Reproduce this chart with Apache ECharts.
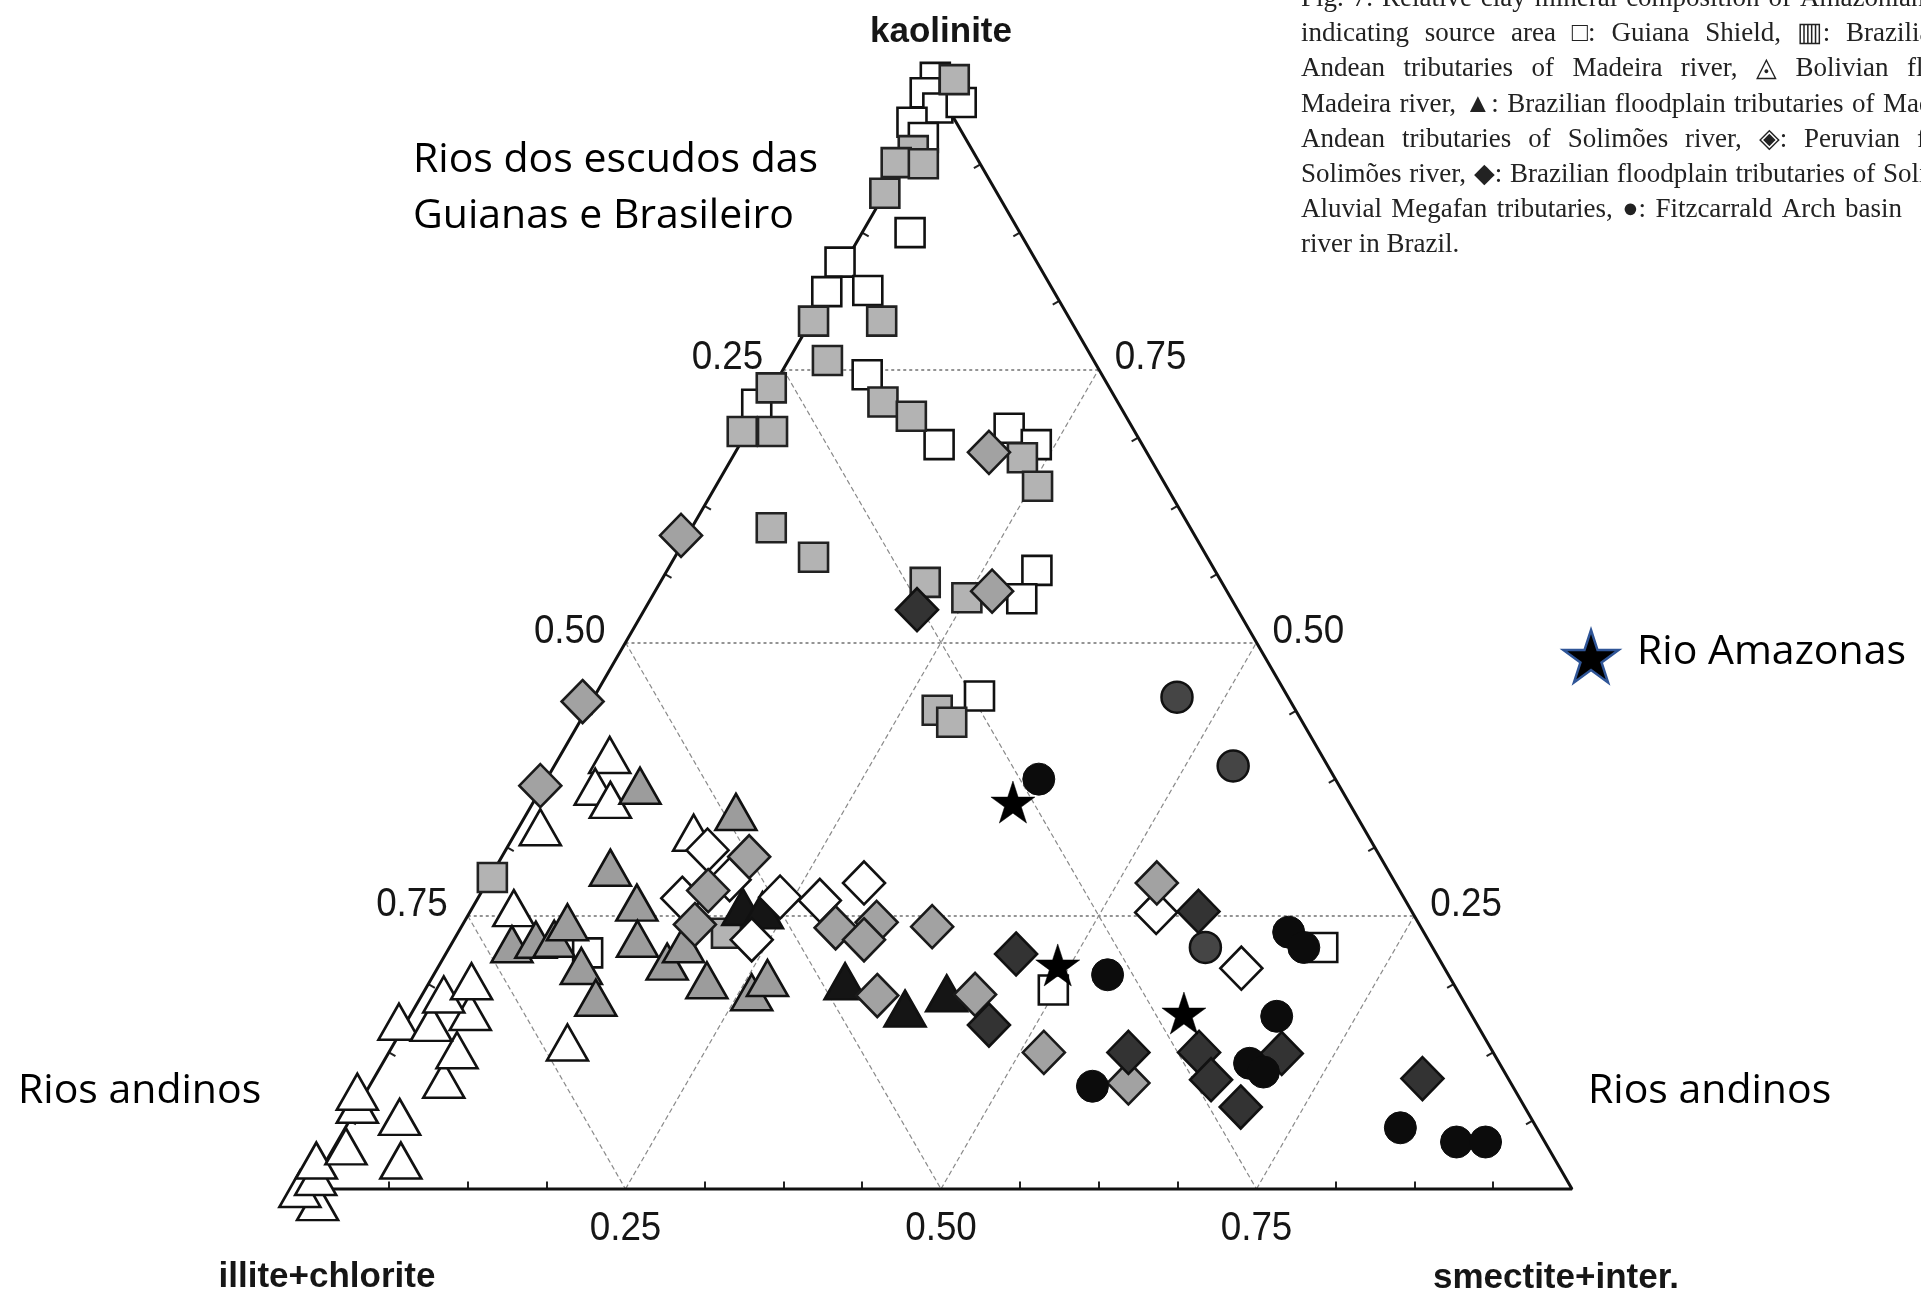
<!DOCTYPE html>
<html>
<head>
<meta charset="utf-8">
<script src="https://cdn.jsdelivr.net/npm/echarts/dist/echarts.min.js"></script>
<style>
html,body{margin:0;padding:0;background:#fff;}
#c{width:1921px;height:1301px;}
</style>
</head>
<body>
<div id="c"></div>
<script>
// ---------- DATA : each point = [kaolinite, illite+chlorite, smectite+inter.] ----------
const guianaShield = [
  [1.017,-0.004,-0.013],[1.003,0.012,-0.014],[0.989,0.008,0.003],[0.994,-0.013,0.019],
  [0.976,0.035,-0.011],[0.962,0.033,0.005],[0.875,0.087,0.038],[0.848,0.156,-0.004],
  [0.821,0.180,-0.001],[0.822,0.147,0.031],[0.745,0.186,0.069],[0.718,0.287,-0.005],
  [0.681,0.161,0.158],[0.696,0.098,0.206],[0.681,0.084,0.235],[0.566,0.141,0.293],
  [0.540,0.166,0.294],[0.451,0.244,0.305],[0.182,0.320,0.498],[0.221,0.087,0.692],
  [0.216,0.672,0.112]
];
const brazilianShield = [
  [1.015,-0.018,0.003],[0.950,0.047,0.003],[0.939,0.066,-0.005],[0.938,0.045,0.017],
  [0.911,0.089,0.000],[0.794,0.204,0.002],[0.794,0.150,0.056],[0.758,0.211,0.031],
  [0.733,0.268,-0.001],[0.693,0.311,-0.004],[0.693,0.287,0.020],[0.720,0.186,0.094],
  [0.707,0.170,0.123],[0.669,0.101,0.230],[0.643,0.102,0.255],[0.605,0.332,0.063],
  [0.578,0.312,0.110],[0.555,0.235,0.210],[0.541,0.209,0.250],[0.438,0.284,0.278],
  [0.427,0.278,0.295],[0.285,0.713,0.002],[0.234,0.553,0.213]
];
const andeanMadeira = [
  [-0.012,1.000,0.012],[0.000,1.008,-0.008],[0.011,0.990,-0.001],[0.026,0.982,-0.008],
  [0.039,0.952,0.009],[0.026,0.915,0.059],[0.066,0.896,0.038],[0.077,0.924,-0.001],
  [0.089,0.918,-0.007],[0.100,0.844,0.056],[0.127,0.820,0.053],[0.153,0.853,-0.006],
  [0.152,0.828,0.020],[0.162,0.792,0.046],[0.178,0.805,0.017],[0.190,0.777,0.033],
  [0.257,0.710,0.033],[0.331,0.652,0.017],[0.397,0.564,0.039],[0.368,0.590,0.042],
  [0.356,0.584,0.060],[0.326,0.533,0.141],[0.134,0.729,0.137]
];
const bolivianMadeira = [
  [0.369,0.554,0.077],[0.345,0.490,0.165],[0.294,0.615,0.091],[0.224,0.728,0.048],
  [0.228,0.707,0.065],[0.229,0.692,0.079],[0.244,0.674,0.082],[0.204,0.683,0.113],
  [0.175,0.686,0.139],[0.262,0.610,0.128],[0.229,0.626,0.145],[0.208,0.613,0.179],
  [0.224,0.592,0.184],[0.191,0.590,0.219],[0.180,0.560,0.260],[0.193,0.541,0.266]
];
const brazilMadeira = [
  [0.258,0.528,0.214],[0.255,0.514,0.231],[0.190,0.481,0.329],[0.165,0.446,0.389],
  [0.179,0.406,0.415]
];
const andeanSolimoes = [
  [0.310,0.530,0.160],[0.283,0.526,0.191],[0.266,0.572,0.162],[0.267,0.494,0.239],
  [0.264,0.464,0.272],[0.280,0.421,0.299],[0.228,0.536,0.236],[0.253,0.203,0.544],
  [0.202,0.161,0.637]
];
const peruvianSolimoes = [
  [0.598,0.407,-0.005],[0.446,0.561,-0.007],[0.369,0.633,-0.002],[0.674,0.125,0.201],
  [0.547,0.186,0.267],[0.304,0.500,0.196],[0.273,0.548,0.179],[0.242,0.574,0.184],
  [0.239,0.464,0.297],[0.244,0.429,0.327],[0.228,0.447,0.325],[0.240,0.387,0.373],
  [0.177,0.462,0.361],[0.178,0.384,0.438],[0.125,0.356,0.519],[0.097,0.303,0.600],
  [0.280,0.189,0.531]
];
const brazilSolimoes = [
  [0.530,0.254,0.216],[0.215,0.333,0.452],[0.150,0.387,0.463],[0.125,0.289,0.586],
  [0.254,0.169,0.577],[0.125,0.233,0.642],[0.100,0.236,0.664],[0.075,0.225,0.700],
  [0.124,0.168,0.708],[0.101,0.068,0.831]
];
const megafan = [
  [0.450,0.088,0.462],[0.387,0.075,0.538],[0.221,0.180,0.599]
];
const fitzcarrald = [
  [0.375,0.235,0.390],[0.196,0.270,0.534],[0.094,0.333,0.573],[0.235,0.107,0.658],
  [0.221,0.102,0.677],[0.158,0.155,0.687],[0.115,0.198,0.687],[0.107,0.191,0.702],
  [0.056,0.108,0.836],[0.043,0.070,0.887],[0.043,0.047,0.910]
];
const amazonRiver = [
  [0.354,0.266,0.380],[0.205,0.305,0.490],[0.161,0.227,0.612]
];
const gridValues = [0.25, 0.50, 0.75];
const tickLabels = ['0.25', '0.50', '0.75'];
const minorTicks = [0.0625,0.125,0.1875,0.3125,0.375,0.4375,0.5625,0.625,0.6875,0.8125,0.875,0.9375];
const axisTitles = ['kaolinite', 'illite+chlorite', 'smectite+inter.'];

const captionLines = [
  ['Fig.','7.','Relative','clay','mineral','composition','of','Amazonian'],
  ['indicating','source','area','\u25A1:','Guiana','Shield,','\u25A5:','Brazilian'],
  ['Andean','tributaries','of','Madeira','river,','\u25EC','Bolivian','floodplain'],
  ['Madeira','river,','\u25B2:','Brazilian','floodplain','tributaries','of','Madeira'],
  ['Andean','tributaries','of','Solim\u00f5es','river,','\u25C8:','Peruvian','floodplain'],
  ['Solim\u00f5es','river,','\u25C6:','Brazilian','floodplain','tributaries','of','Solim\u00f5es'],
  ['Aluvial','Megafan','tributaries,','\u25CF:','Fitzcarrald','Arch','basin'],
  ['river','in','Brazil.']
];
const captionLastWordX = [1800, 1846, 1907, 1883, 1917, 1883, 1845, null];

// ---------- GEOMETRY ----------
const H = Math.sqrt(3) / 2;
const xy = p => [p[2] + p[0] / 2, p[0] * H];   // ternary -> cartesian (unit triangle)
const STAR = 'path://M0,-50L11.2,-15.5L47.6,-15.5L18.2,5.9L29.4,40.5L0,19.1L-29.4,40.5L-18.2,5.9L-47.6,-15.5L-11.2,-15.5Z';

function scatter(name, data, symbol, size, fill, border, bw, z) {
  return {
    name, type: 'scatter', data: data.map(xy), symbol, symbolSize: size,
    clip: false, silent: true, z,
    itemStyle: { color: fill, borderColor: border, borderWidth: bw, opacity: 1 }
  };
}

const hLines = gridValues.map(v => ({ coords: [xy([v, 1 - v, 0]), xy([v, 0, 1 - v])] }));
const dLines = [];
gridValues.forEach(v => {
  dLines.push({ coords: [xy([1 - v, v, 0]), xy([0, v, 1 - v])] });
  dLines.push({ coords: [xy([0, 1 - v, v]), xy([1 - v, 0, v])] });
});
const TL = 0.006;
const ticks = [];
minorTicks.forEach(t => {
  const b = xy([0, 1 - t, t]);
  ticks.push({ coords: [b, [b[0], b[1] + TL]] });
  const l = xy([t, 1 - t, 0]);
  ticks.push({ coords: [l, [l[0] + TL * H, l[1] - TL * 0.5]] });
  const r = xy([t, 0, 1 - t]);
  ticks.push({ coords: [r, [r[0] - TL * H, r[1] - TL * 0.5]] });
});

const chart = echarts.init(document.getElementById('c'), null, { renderer: 'canvas', width: 1921, height: 1301 });

const option = {
  animation: false,
  backgroundColor: '#ffffff',
  grid: { left: 310, top: 96, width: 1262, height: 1093, show: false },
  xAxis: { type: 'value', min: 0, max: 1, show: false },
  yAxis: { type: 'value', min: 0, max: H, show: false },
  series: [
    { type: 'lines', coordinateSystem: 'cartesian2d', data: hLines, silent: true, z: 1, clip: false,
      lineStyle: { color: '#727272', width: 1.6, type: [3, 3], opacity: 1 } },
    { type: 'lines', coordinateSystem: 'cartesian2d', data: dLines, silent: true, z: 1, clip: false,
      lineStyle: { color: '#8a8a8a', width: 1.2, type: [5, 3], opacity: 1 } },
    { type: 'lines', coordinateSystem: 'cartesian2d', data: ticks, silent: true, z: 2, clip: false,
      lineStyle: { color: '#222', width: 2, opacity: 1 } },
    { type: 'line', data: [[0,1,0],[0,0,1],[1,0,0],[0,1,0]].map(xy), symbol: 'none', silent: true, z: 2, clip: false,
      lineStyle: { color: '#111', width: 3 } },
    scatter('Guiana Shield', guianaShield, 'rect', 29, '#ffffff', '#111', 2.6, 3),
    scatter('Brazilian Shield', brazilianShield, 'rect', 29, '#b3b3b3', '#222', 2.6, 4),
    scatter('Andean tributaries of Madeira river', andeanMadeira, 'triangle', [41, 36], '#ffffff', '#111', 2.6, 5),
    scatter('Bolivian floodplain tributaries of Madeira river', bolivianMadeira, 'triangle', [41, 36], '#9c9c9c', '#111', 2.6, 6),
    scatter('Brazilian floodplain tributaries of Madeira river', brazilMadeira, 'triangle', [41, 36], '#151515', '#111', 2.6, 7),
    scatter('Andean tributaries of Solimões river', andeanSolimoes, 'diamond', [42, 43], '#ffffff', '#111', 2.6, 8),
    scatter('Peruvian floodplain tributaries of Solimões river', peruvianSolimoes, 'diamond', [42, 43], '#a2a2a2', '#1a1a1a', 2.6, 9),
    scatter('Brazilian floodplain tributaries of Solimões river', brazilSolimoes, 'diamond', [42, 43], '#333333', '#111', 2.6, 10),
    scatter('Aluvial Megafan tributaries', megafan, 'circle', 31, '#454545', '#111', 2.5, 11),
    scatter('Fitzcarrald Arch basin', fitzcarrald, 'circle', 32, '#0c0c0c', '#0c0c0c', 1, 12),
    scatter('Rio Amazonas', amazonRiver, STAR, [44, 42], '#000000', '#000000', 0.5, 13)
  ]
};
chart.setOption(option);

// ---------- TEXT (positioned through the chart's own scales) ----------
const toPx = p => chart.convertToPixel({ gridIndex: 0 }, xy(p));
const els = [];
function txt(x, y, text, font, align, extra) {
  return Object.assign({ type: 'text', x, y, silent: true, z: 50,
    style: { text, font, fill: '#161616', textAlign: align, verticalAlign: 'middle' } }, extra || {});
}
const TICK_FONT = '40px "Liberation Sans", Arial, sans-serif';
gridValues.forEach((v, i) => {
  const l = toPx([1 - v, v, 0]);
  els.push(txt(l[0] - 20, l[1] - 11, tickLabels[i], TICK_FONT, 'right', { scaleX: 0.92 }));
  const r = toPx([v, 0, 1 - v]);
  els.push(txt(r[0] + 16, r[1] - 11, tickLabels[i], TICK_FONT, 'left', { scaleX: 0.92 }));
  const b = toPx([0, 1 - v, v]);
  els.push(txt(b[0], b[1] + 40, tickLabels[i], TICK_FONT, 'center', { scaleX: 0.92 }));
});
const TITLE_FONT = 'bold 35px "Liberation Sans", Arial, sans-serif';
const apexPx = toPx([1, 0, 0]), blPx = toPx([0, 1, 0]), brPx = toPx([0, 0, 1]);
els.push(txt(apexPx[0], apexPx[1] - 64, axisTitles[0], TITLE_FONT, 'center'));
els.push(txt(blPx[0] + 17, blPx[1] + 88, axisTitles[1], TITLE_FONT, 'center'));
els.push(txt(brPx[0] - 16, brPx[1] + 89, axisTitles[2], TITLE_FONT, 'center'));

// Portuguese annotations
const ANN_FONT = '41px "Open Sans", sans-serif';
const ann = (x, y, t) => ({ type: 'text', x, y, silent: true, z: 50,
  style: { text: t, font: ANN_FONT, fill: '#000', textAlign: 'left', verticalAlign: 'middle' } });
els.push(ann(413, 160, 'Rios dos escudos das'));
els.push(ann(413, 216, 'Guianas e Brasileiro'));
els.push(ann(18, 1091, 'Rios andinos'));
els.push(ann(1588, 1091, 'Rios andinos'));
els.push(ann(1637, 652, 'Rio Amazonas'));
// legend star
(function () {
  const cx = 1591, cy = 659, R = 29, r = 11.1, pts = [];
  for (let k = 0; k < 10; k++) {
    const a = -Math.PI / 2 + k * Math.PI / 5, rad = k % 2 ? r : R;
    pts.push([cx + rad * Math.cos(a), cy + rad * Math.sin(a)]);
  }
  els.push({ type: 'polygon', silent: true, z: 50, shape: { points: pts },
    style: { fill: '#000', stroke: '#2F5597', lineWidth: 2.5 } });
})();

// caption (justified, clipped by the page edge)
const CAP_FONT = '27px "Liberation Serif", "Times New Roman", serif';
const mctx = document.createElement('canvas').getContext('2d');
mctx.font = CAP_FONT;
const capLeft = 1301, capTop = -1, capLead = 35.2;
captionLines.forEach((words, i) => {
  const y = capTop + i * capLead;
  const w = words.map(s => mctx.measureText(s).width);
  let gap = mctx.measureText(' ').width;
  if (captionLastWordX[i] != null) {
    const sum = w.slice(0, -1).reduce((a, b) => a + b, 0);
    gap = Math.max(gap, (captionLastWordX[i] - capLeft - sum) / (words.length - 1));
  }
  let x = capLeft;
  words.forEach((s, j) => {
    els.push({ type: 'text', x, y, silent: true, z: 50,
      style: { text: s, font: CAP_FONT, fill: '#222', textAlign: 'left', verticalAlign: 'middle' } });
    x += w[j] + gap;
  });
});

chart.setOption({ graphic: { elements: els } });
</script>
</body>
</html>
